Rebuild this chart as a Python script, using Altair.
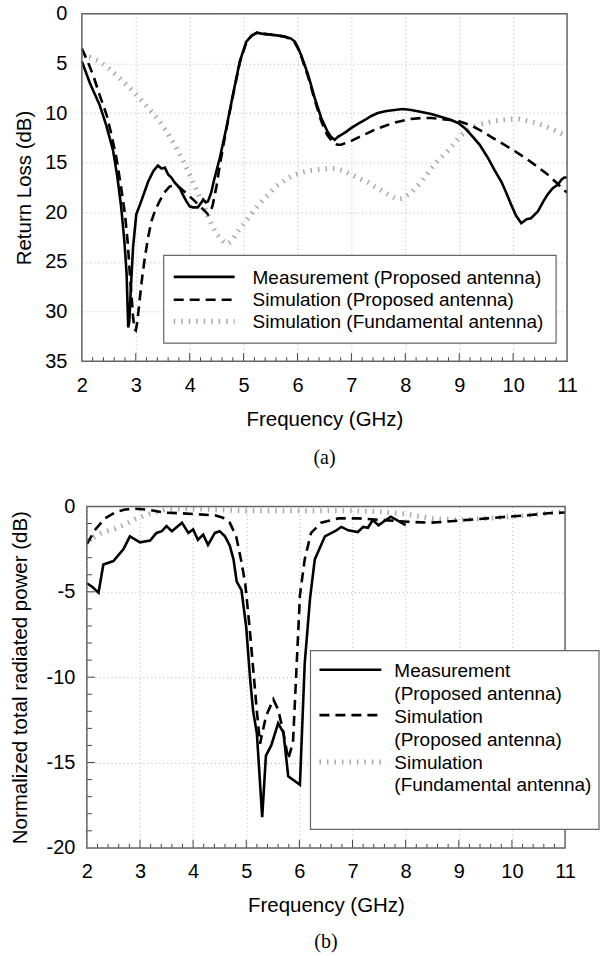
import altair as alt
import pandas as pd

# ---------------- (a) Return loss ----------------
meas_a_f = [2.0, 2.15, 2.33, 2.45, 2.58, 2.66, 2.73, 2.79, 2.83, 2.86, 2.88, 2.91, 2.95, 3.01, 3.1, 3.23, 3.33,
            3.41, 3.48, 3.54, 3.6, 3.66, 3.72, 3.81, 3.88, 3.94, 4.0, 4.06, 4.15, 4.22, 4.25, 4.3, 4.34, 4.4,
            4.45, 4.56, 4.68, 4.8, 4.93, 5.05, 5.15, 5.25, 5.33, 5.5, 5.65, 5.76, 5.88, 5.95, 6.0, 6.07, 6.2,
            6.32, 6.44, 6.55, 6.62, 6.69, 6.75, 6.81, 6.9, 7.0, 7.12, 7.25, 7.37, 7.49, 7.65, 7.8, 7.95, 8.11,
            8.3, 8.48, 8.67, 8.85, 8.98, 9.1, 9.22, 9.38, 9.53, 9.66, 9.78, 9.87, 9.96, 10.05, 10.15, 10.25,
            10.33, 10.46, 10.55, 10.64, 10.73, 10.83, 10.9, 10.95, 11.0]
meas_a_db = [4.8, 7.0, 9.2, 11.2, 13.8, 16.5, 19.5, 23.0, 26.2, 31.6, 31.0, 27.5, 23.5, 20.2, 18.9, 16.9, 15.8,
             15.3, 15.6, 15.5, 16.2, 16.5, 17.0, 17.5, 18.3, 18.9, 19.4, 19.5, 19.5, 19.0, 18.7, 19.0, 18.9, 18.0,
             16.8, 14.5, 11.5, 8.2, 4.8, 2.8, 2.2, 1.9, 2.0, 2.1, 2.2, 2.3, 2.5, 2.8, 3.3, 4.2, 6.2,
             8.5, 10.5, 11.8, 12.4, 12.7, 12.4, 12.2, 11.9, 11.5, 11.1, 10.7, 10.3, 10.0, 9.8, 9.7, 9.6, 9.7,
             9.9, 10.1, 10.4, 10.7, 11.0, 11.5, 12.2, 13.2, 14.5, 15.8, 16.9, 18.0, 19.2, 20.3, 21.1, 20.7,
             20.6, 19.9, 19.0, 18.2, 17.6, 17.2, 16.7, 16.5, 16.5]

sim_a_f = [2.0, 2.1, 2.21, 2.33, 2.46, 2.55, 2.64, 2.72, 2.8, 2.85, 2.89, 2.93, 2.95, 2.98, 3.0, 3.03, 3.07,
           3.12, 3.17, 3.23, 3.29, 3.36, 3.44, 3.53, 3.63, 3.72, 3.81, 3.9, 4.0, 4.1, 4.19, 4.27, 4.34, 4.39,
           4.43, 4.5, 4.56, 4.64, 4.72, 4.82, 4.93, 5.05, 5.15, 5.25, 5.33, 5.5, 5.65, 5.76, 5.88, 5.95, 6.0,
           6.07, 6.2, 6.32, 6.44, 6.55, 6.65, 6.74, 6.81, 6.9, 7.0, 7.15, 7.31, 7.46, 7.62, 7.78, 7.93, 8.1,
           8.3, 8.48, 8.67, 8.83, 8.98, 9.2, 9.41, 9.62, 9.84, 10.05, 10.27, 10.45, 10.64, 10.8, 10.95, 11.0]
sim_a_db = [3.5, 4.7, 6.2, 8.2, 10.2, 12.2, 14.5, 17.2, 20.2, 23.0, 26.2, 29.0, 30.6, 31.8, 31.9, 31.0, 28.9,
            26.5, 24.5, 22.5, 20.9, 19.8, 18.9, 18.0, 17.4, 17.3, 17.5, 17.9, 18.4, 18.9, 19.4, 19.8, 20.2, 19.9,
            19.2, 17.3, 15.2, 12.8, 10.5, 7.8, 4.9, 2.9, 2.2, 1.9, 2.0, 2.1, 2.2, 2.3, 2.6, 2.9, 3.4,
            4.3, 6.4, 8.7, 10.8, 12.2, 12.9, 13.2, 13.2, 13.0, 12.8, 12.4, 12.0, 11.6, 11.3, 11.0, 10.8, 10.6,
            10.5, 10.5, 10.6, 10.7, 10.8, 11.2, 11.8, 12.5, 13.2, 13.9, 14.7, 15.4, 16.2, 17.0, 17.8, 18.0]

fund_a_f = [2.0, 2.15, 2.33, 2.5, 2.7, 2.88, 3.07, 3.25, 3.44, 3.6, 3.75, 3.88, 4.0, 4.12, 4.25, 4.35, 4.43,
            4.52, 4.62, 4.7, 4.78, 4.86, 5.0, 5.17, 5.3, 5.46, 5.6, 5.76, 5.9, 6.07, 6.22, 6.38, 6.55, 6.69,
            6.85, 7.0, 7.15, 7.31, 7.46, 7.62, 7.75, 7.86, 7.95, 8.11, 8.3, 8.48, 8.6, 8.79, 9.04, 9.2, 9.35,
            9.5, 9.65, 9.8, 9.96, 10.1, 10.27, 10.42, 10.58, 10.75, 10.95, 11.0]
fund_a_db = [4.2, 4.4, 4.8, 5.5, 6.5, 7.4, 8.5, 9.6, 10.8, 12.1, 13.5, 14.8, 16.2, 17.7, 19.2, 20.5, 21.5,
             22.3, 22.9, 23.2, 22.9, 22.2, 21.2, 20.0, 19.1, 18.2, 17.4, 16.8, 16.3, 16.0, 15.8, 15.7, 15.6, 15.6,
             15.8, 16.2, 16.6, 17.0, 17.5, 18.0, 18.4, 18.7, 18.6, 18.0, 16.9, 15.6, 14.8, 13.8, 12.2, 11.6, 11.2,
             11.0, 10.8, 10.7, 10.6, 10.6, 10.8, 11.0, 11.3, 11.7, 12.2, 12.3]

# ---------------- (b) Normalized total radiated power ----------------
meas_b_f = [2.0, 2.1, 2.22, 2.31, 2.5, 2.69, 2.81, 3.0, 3.19, 3.31, 3.41, 3.5, 3.6, 3.79, 3.91, 4.0, 4.09,
            4.19, 4.28, 4.41, 4.5, 4.6, 4.69, 4.76, 4.82, 4.91, 5.0, 5.07, 5.13, 5.2, 5.3, 5.37, 5.47, 5.6,
            5.7, 5.79, 6.01, 6.1, 6.2, 6.29, 6.48, 6.67, 6.79, 6.92, 7.1, 7.2, 7.29, 7.38, 7.49, 7.6, 7.72,
            7.86, 8.0]
meas_b_db = [-4.5, -4.7, -5.05, -3.4, -3.2, -2.5, -1.75, -2.1, -2.0, -1.55, -1.45, -1.15, -1.45, -0.95, -1.55,
             -1.35, -1.95, -1.65, -2.25, -1.55, -1.45, -1.75, -2.3, -3.1, -4.4, -4.9, -7.1, -10.0, -12.0, -13.3,
             -18.2, -14.6, -14.0, -12.7, -13.25, -15.8, -16.3, -9.2, -5.4, -3.1, -1.75, -1.45, -1.2, -1.4, -1.5,
             -1.2, -1.25, -0.8, -1.1, -0.85, -0.6, -0.85, -1.1]

sim_b_f = [2.0, 2.16, 2.34, 2.53, 2.72, 2.91, 3.16, 3.47, 3.78, 4.09, 4.41, 4.56, 4.69, 4.81, 4.9, 4.98, 5.06,
           5.13, 5.2, 5.26, 5.37, 5.51, 5.6, 5.69, 5.79, 5.88, 5.95, 6.01, 6.1, 6.22, 6.41, 6.73, 7.1, 7.6,
           8.05, 8.48, 8.73, 9.1, 9.54, 9.92, 10.3, 10.68, 11.0]
sim_b_db = [-2.2, -1.35, -0.7, -0.35, -0.18, -0.13, -0.2, -0.36, -0.4, -0.46, -0.52, -0.66, -0.95, -1.75, -3.1,
            -4.5, -7.0, -9.5, -12.0, -13.9, -12.3, -11.3, -11.9, -13.1, -14.8, -13.8, -9.2, -5.2, -3.1, -1.55,
            -0.95, -0.7, -0.7, -0.8, -0.9, -0.95, -0.9, -0.8, -0.7, -0.6, -0.52, -0.4, -0.35]

fund_b_f = [2.0, 2.28, 2.53, 2.72, 2.91, 3.16, 3.47, 3.9, 4.5, 5.0, 6.0, 7.0, 7.5, 8.0, 8.5, 9.0, 9.5, 10.0,
            10.5, 11.0]
fund_b_db = [-2.0, -1.55, -1.3, -1.05, -0.75, -0.45, -0.18, -0.12, -0.2, -0.25, -0.25, -0.25, -0.3, -0.45,
             -0.7, -0.8, -0.7, -0.6, -0.45, -0.3]

x_ticks = list(range(2, 12))
ya_ticks = [0, 5, 10, 15, 20, 25, 30, 35]
yb_ticks = [-20, -15, -10, -5, 0]

legend_a = ["Measurement (Proposed antenna)", "Simulation (Proposed antenna)",
            "Simulation (Fundamental antenna)"]
legend_b = ["Measurement", "(Proposed antenna)", "Simulation", "(Proposed antenna)", "Simulation",
            "(Fundamental antenna)"]

FONT = "Liberation Sans"
SERIF = "Liberation Serif"
FRAME = "#666666"
GRID = "#b4b4b4"
GREY = "#a8a8a8"
SOLID = dict(color="black", strokeWidth=2.6)
DASHED = dict(color="black", strokeWidth=2.6, strokeDash=[10, 6])
DOTTED = dict(color=GREY, strokeWidth=5, strokeDash=[1.5, 6])

W1, H1 = 486, 348
W2, H2 = 484, 342
OFF2 = 5  # left inset of plot (b)


def df(f, v):
    return pd.DataFrame({"f": f, "v": v})


def one():
    return pd.DataFrame({"z": [0]})


minor_x = [round(2 + 0.2 * i, 1) for i in range(46) if i % 5]
major_x = list(range(3, 11))
minor_yb = [v for v in range(-19, 0) if v % 5]
major_yb = [-15, -10, -5]

X_AXIS = alt.Axis(values=x_ticks, format="d", labelFont=FONT, labelFontSize=20, labelColor="black",
                  labelFlush=False, tickSize=0, domain=False, grid=True, gridDash=[1, 3], gridColor=GRID,
                  gridWidth=1, labelPadding=14, title="Frequency (GHz)", titleFont=FONT, titleFontSize=20.5,
                  titleFontWeight="normal", titleColor="black", titlePadding=14)


def texts(items, size=19, font=FONT, align="left"):
    out = []
    for (label, x, y) in items:
        out.append(alt.Chart(one()).mark_text(text=label, font=font, fontSize=size, align=align,
                                              baseline="middle", color="black")
                   .encode(x=alt.value(x), y=alt.value(y)))
    return out


def rule(x1, x2, y, style):
    return alt.Chart(one()).mark_rule(**style).encode(x=alt.value(x1), x2=alt.value(x2), y=alt.value(y))


# ---------- chart (a) ----------
xa = alt.Scale(domain=[2, 11], nice=False, zero=False)
ya = alt.Scale(domain=[0, 35], reverse=True, nice=False, zero=False)
YA_AXIS = alt.Axis(values=ya_ticks, labelFont=FONT, labelFontSize=20, labelColor="black", tickSize=0,
                   labelFlush=False, domain=False, grid=True, gridDash=[1, 3], gridColor=GRID, gridWidth=1,
                   labelPadding=15, title="Return Loss (dB)", titleFont=FONT, titleFontSize=20.5,
                   titleFontWeight="normal", titleColor="black", titlePadding=10)
XA = alt.X("f:Q", scale=xa, axis=X_AXIS)
YA = alt.Y("v:Q", scale=ya, axis=YA_AXIS)

a_fund = alt.Chart(df(fund_a_f, fund_a_db)).mark_line(**DOTTED).encode(x=XA, y=YA)
a_sim = alt.Chart(df(sim_a_f, sim_a_db)).mark_line(**DASHED).encode(x=XA, y=YA)
a_meas = alt.Chart(df(meas_a_f, meas_a_db)).mark_line(**SOLID).encode(x=XA, y=YA)
a_minor = alt.Chart(pd.DataFrame({"f": minor_x})).mark_rule(color="#444", strokeWidth=1).encode(
    x=XA, y=alt.value(H1), y2=alt.value(H1 - 4))
a_major = alt.Chart(pd.DataFrame({"f": major_x})).mark_rule(color="#444", strokeWidth=1).encode(
    x=XA, y=alt.value(H1), y2=alt.value(H1 - 8))
a_frame = alt.Chart(one()).mark_rect(fillOpacity=0, stroke=FRAME, strokeWidth=1.5).encode(
    x=alt.value(0), x2=alt.value(W1), y=alt.value(0), y2=alt.value(H1))
a_box = alt.Chart(one()).mark_rect(fill="white", stroke=FRAME, strokeWidth=1.2).encode(
    x=alt.value(82), x2=alt.value(475), y=alt.value(242), y2=alt.value(330))
a_leg = [rule(92, 153, 263.5, SOLID), rule(92, 153, 286.5, DASHED), rule(92, 153, 308, DOTTED)]
a_txt = texts([(legend_a[0], 171, 265), (legend_a[1], 171, 287), (legend_a[2], 171, 309)])
a_cap = texts([("(a)", W1 / 2, 445)], size=20, font=SERIF, align="center")

chart_a = alt.layer(a_fund, a_sim, a_meas, a_minor, a_major, a_frame, a_box, *a_leg, *a_txt, *a_cap).properties(
    width=W1, height=H1)

# ---------- chart (b) ----------
xb = alt.Scale(domain=[2, 11], nice=False, zero=False, range=[OFF2, W2])
yb = alt.Scale(domain=[-20, 0], nice=False, zero=False)
YB_AXIS = alt.Axis(values=yb_ticks, labelFont=FONT, labelFontSize=20, labelColor="black", tickSize=0,
                   labelFlush=False, labelExpr="'' + datum.value", domain=False, grid=True, gridDash=[1, 3],
                   gridColor=GRID, gridWidth=1, labelPadding=7, title="Normalized total radiated power (dB)",
                   titleFont=FONT, titleFontSize=20.5, titleFontWeight="normal", titleColor="black",
                   titlePadding=16)
XB = alt.X("f:Q", scale=xb, axis=X_AXIS)
YB = alt.Y("v:Q", scale=yb, axis=YB_AXIS)

b_fund = alt.Chart(df(fund_b_f, fund_b_db)).mark_line(**DOTTED).encode(x=XB, y=YB)
b_sim = alt.Chart(df(sim_b_f, sim_b_db)).mark_line(**DASHED).encode(x=XB, y=YB)
b_meas = alt.Chart(df(meas_b_f, meas_b_db)).mark_line(**SOLID).encode(x=XB, y=YB)
b_minor = alt.Chart(pd.DataFrame({"f": minor_x})).mark_rule(color="#444", strokeWidth=1).encode(
    x=XB, y=alt.value(H2), y2=alt.value(H2 - 4))
b_major = alt.Chart(pd.DataFrame({"f": major_x})).mark_rule(color="#444", strokeWidth=1).encode(
    x=XB, y=alt.value(H2), y2=alt.value(H2 - 8))
b_yminor = alt.Chart(pd.DataFrame({"v": minor_yb})).mark_rule(color="#444", strokeWidth=1).encode(
    y=YB, x=alt.value(OFF2), x2=alt.value(OFF2 + 5))
b_ymajor = alt.Chart(pd.DataFrame({"v": major_yb})).mark_rule(color="#444", strokeWidth=1).encode(
    y=YB, x=alt.value(OFF2), x2=alt.value(OFF2 + 8))
b_frame = alt.Chart(one()).mark_rect(fillOpacity=0, stroke=FRAME, strokeWidth=1.5).encode(
    x=alt.value(OFF2), x2=alt.value(W2), y=alt.value(0), y2=alt.value(H2))
b_box = alt.Chart(one()).mark_rect(fill="white", stroke=FRAME, strokeWidth=1.2).encode(
    x=alt.value(229), x2=alt.value(518), y=alt.value(144.5), y2=alt.value(323.5))
b_leg = [rule(238, 300, 163.5, SOLID), rule(238, 300, 209, DASHED), rule(238, 300, 256, DOTTED)]
b_txt = texts([(legend_b[i], 313, 164.5 + 23 * i) for i in range(6)])
b_cap = texts([("(b)", (W2 + OFF2) / 2, 436)], size=20, font=SERIF, align="center")

chart_b = alt.layer(b_fund, b_sim, b_meas, b_minor, b_major, b_yminor, b_ymajor, b_frame, b_box, *b_leg,
                    *b_txt, *b_cap).properties(width=W2, height=H2)

chart = alt.vconcat(chart_a, chart_b, spacing=28.5).properties(
    padding={"left": 10, "top": 3, "right": 0, "bottom": 0}, background="white"
).configure_view(stroke=None)

chart.save("out.html", embed_options={"renderer": "svg", "actions": False})
